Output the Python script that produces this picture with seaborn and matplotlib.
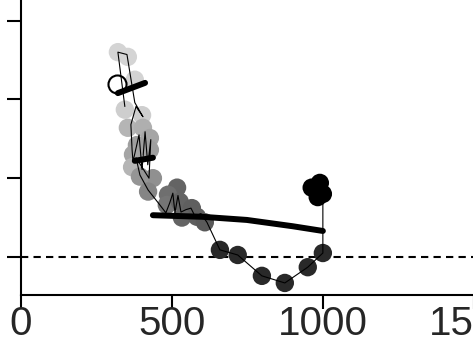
import matplotlib
matplotlib.use("Agg")
import matplotlib.pyplot as plt
import seaborn as sns
import pandas as pd

# ── VERİ ──────────────────────────────────────────────────────────────────────
# noktalar (zaman sırasına göre), gri tonu = koyuluk
pt_x = [321, 354, 377, 344, 401, 354, 404, 427, 384, 427, 371, 368,
        437, 394, 421, 517, 487, 483, 526, 566, 533, 583, 609,
        659, 718, 798, 874, 950, 1000,
        963, 990, 1000, 983]
pt_y = [2.60, 2.54, 2.25, 1.87, 1.80, 1.64, 1.64, 1.51, 1.42, 1.36, 1.30, 1.14,
        1.00, 1.02, 0.83, 0.88, 0.79, 0.66, 0.70, 0.62, 0.50, 0.51, 0.44,
        0.09, 0.025, -0.24, -0.33, -0.13, 0.05,
        0.88, 0.94, 0.80, 0.76]
pt_shade = [0.27, 0.27, 0.28, 0.30, 0.30, 0.40, 0.42, 0.45, 0.47, 0.47, 0.45, 0.40,
            0.52, 0.50, 0.56, 0.68, 0.64, 0.62, 0.68, 0.70, 0.68, 0.70, 0.72,
            0.86, 0.86, 0.86, 0.86, 0.86, 0.86,
            1.0, 1.0, 1.0, 1.0]

# ince ham iz
trace_x = [344, 321, 351, 371, 377, 404, 381, 364, 368, 371, 391, 401, 411, 420,
           430, 424, 381, 394, 421, 454, 480, 493, 503, 510, 520, 530, 546, 563,
           576, 596, 616, 659, 718, 798, 874, 950, 1000, 1000]
trace_y = [1.91, 2.60, 2.57, 2.10, 1.96, 1.78, 1.91, 1.68, 1.36, 1.21, 1.55, 1.11,
           1.59, 1.17, 1.49, 1.00, 1.26, 1.04, 0.85, 0.69, 0.56, 0.69, 0.81, 0.56,
           0.78, 0.57, 0.60, 0.62, 0.52, 0.55, 0.44, 0.09, 0.025, -0.24, -0.33,
           -0.13, 0.05, 0.94]

# kalın uyum çizgileri
fit1_x, fit1_y = [321, 411], [2.08, 2.21]
fit2_x, fit2_y = [377, 437], [1.22, 1.26]
fit3_x = [437, 600, 748, 900, 1000]
fit3_y = [0.53, 0.51, 0.47, 0.39, 0.33]

# açık daire
ring_x, ring_y = [318], [2.19]

x_ticks = [0, 500, 1000, 1500]
y_ticks = [0, 1, 2, 3]

# ── GRAFİK ────────────────────────────────────────────────────────────────────
sns.set_theme(style="ticks")
plt.rcParams["font.family"] = ["Liberation Sans", "DejaVu Sans"]

pts = pd.DataFrame({"x": pt_x, "y": pt_y, "shade": pt_shade})

fig = plt.figure(figsize=(4.73, 3.42), dpi=100)
ax = fig.add_axes([21 / 473, 47 / 342, 1.0211, 0.8713])

ax.axhline(0, color="black", lw=1.5, ls=(0, (3.5, 2.5)), zorder=1)
sns.scatterplot(data=pts, x="x", y="y", hue="shade", palette="Greys",
                hue_norm=(0, 1), s=175, linewidth=0, legend=False,
                ax=ax, zorder=2)
ax.plot(trace_x, trace_y, color="black", lw=0.8, zorder=3)
for fx, fy in [(fit1_x, fit1_y), (fit2_x, fit2_y), (fit3_x, fit3_y)]:
    ax.plot(fx, fy, color="black", lw=4.3, solid_capstyle="round", zorder=4)
ax.plot(ring_x, ring_y, "o", ms=13, mfc="none", mec="black", mew=1.5, zorder=5)

ax.set_xlim(0, 1600)
ax.set_ylim(-0.483, 3.3)
ax.set_xticks(x_ticks)
ax.set_xticklabels([str(v) for v in x_ticks])
ax.set_yticks(y_ticks)
ax.set_yticklabels([])
ax.set_xlabel("")
ax.set_ylabel("")
for side in ["top", "right"]:
    ax.spines[side].set_visible(False)
for side in ["left", "bottom"]:
    ax.spines[side].set_linewidth(1.5)
    ax.spines[side].set_color("black")
ax.tick_params(axis="both", direction="out", length=10, width=1.5,
               color="black", labelsize=29, pad=-3)

plt.savefig("out.png", dpi=100)
